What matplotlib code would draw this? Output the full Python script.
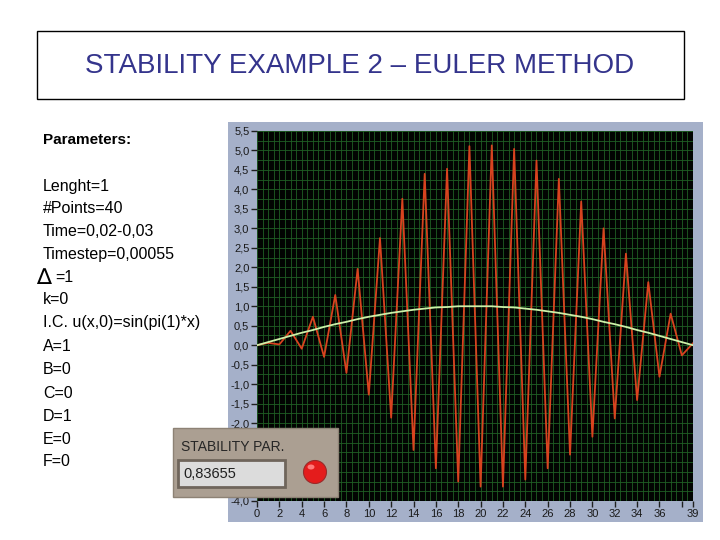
import matplotlib
matplotlib.use("Agg")
import matplotlib.pyplot as plt
from matplotlib.patches import Rectangle, Ellipse
from matplotlib.ticker import MultipleLocator, FuncFormatter, FixedLocator

plt.rcParams['font.family'] = ['Liberation Sans', 'DejaVu Sans']

# ---------------- data ----------------
title = "STABILITY EXAMPLE 2 \u2013 EULER METHOD"
param_header = "Parameters:"
param_lines = ["Lenght=1", "#Points=40", "Time=0,02-0,03", "Timestep=0,00055",
               "=1", "k=0", "I.C. u(x,0)=sin(pi(1)*x)", "A=1", "B=0", "C=0",
               "D=1", "E=0", "F=0"]
stability_label = "STABILITY PAR."
stability_value = "0,83655"

x_points = list(range(40))
euler_values = [0.00, 0.06, 0.02, 0.37, -0.09, 0.73, -0.30, 1.29, -0.71, 1.96,
                -1.27, 2.75, -1.86, 3.76, -2.69, 4.40, -3.16, 4.53, -3.50, 5.11,
                -3.63, 5.13, -3.63, 5.04, -3.45, 4.74, -3.16, 4.27, -2.81, 3.69,
                -2.35, 3.00, -1.88, 2.35, -1.41, 1.62, -0.81, 0.81, -0.26, 0.05]
initial_values = [0.00, 0.08, 0.16, 0.24, 0.32, 0.39, 0.47, 0.54, 0.60, 0.67,
                  0.73, 0.78, 0.83, 0.87, 0.91, 0.94, 0.97, 0.98, 1.00, 1.00,
                  1.00, 1.00, 0.98, 0.97, 0.94, 0.91, 0.87, 0.83, 0.78, 0.73,
                  0.67, 0.60, 0.54, 0.47, 0.39, 0.32, 0.24, 0.16, 0.08, 0.00]
x_tick_values = [0, 2, 4, 6, 8, 10, 12, 14, 16, 18, 20, 22, 24, 26, 28, 30, 32, 34, 36, 38, 39]
x_tick_labels = ["0", "2", "4", "6", "8", "10", "12", "14", "16", "18", "20", "22",
                 "24", "26", "28", "30", "32", "34", "36", "", "39"]
hidden_y_labels = [-2.5, -3.0, -3.5]   # covered by the widget in the reference

W, H = 720, 540
fig = plt.figure(figsize=(7.2, 5.4), dpi=100)
fig.patch.set_facecolor('white')

# background overlay axes in pixel coordinates
bg = fig.add_axes([0, 0, 1, 1], zorder=0)
bg.set_xlim(0, W); bg.set_ylim(H, 0); bg.axis('off')

# title box
bg.add_patch(Rectangle((37, 31), 647, 68, fill=False, edgecolor='black', lw=1.0))
bg.text(359.5, 66, title, ha='center', va='center', fontsize=20, color='#34348c')

# parameters text
bg.text(43, 140, param_header, ha='left', va='center', fontsize=11, fontweight='bold', color='black')
line_y = [186, 208.5, 231.5, 254.5, 277.5, 300, 323, 346.5, 370, 393, 416.5, 439, 461.5]
for yy, s in zip(line_y, param_lines):
    if s == "=1":
        bg.text(36, yy + 1, "\u2206", ha='left', va='center', fontsize=16,
                color='black', family=['DejaVu Sans'])
        bg.text(55, yy, s, ha='left', va='center', fontsize=11.5, color='black')
    else:
        bg.text(43, yy, s, ha='left', va='center', fontsize=11.5, color='black')

# graph panel background
bg.add_patch(Rectangle((228, 122), 475, 400, facecolor='#a5b0c9', edgecolor='none'))

# ---------------- plot ----------------
L, R, T, B = 257, 693, 131, 501
ax = fig.add_axes([L / W, 1 - B / H, (R - L) / W, (B - T) / H], zorder=1)
ax.set_facecolor('#020402')
ax.set_xlim(0, 39)
ax.set_ylim(-4.0, 5.5)

ax.xaxis.set_major_locator(FixedLocator(x_tick_values))
ax.set_xticklabels(x_tick_labels)
ax.xaxis.set_minor_locator(MultipleLocator(0.5))
ax.yaxis.set_major_locator(MultipleLocator(0.5))
ax.yaxis.set_minor_locator(MultipleLocator(0.25))


def yfmt(v, p):
    if any(abs(v - h) < 1e-6 for h in hidden_y_labels):
        return ""
    return ("%.1f" % v).replace('.', ',')


ax.yaxis.set_major_formatter(FuncFormatter(yfmt))

ax.grid(True, which='both', color='#1f5e24', lw=0.6)
ax.set_axisbelow(True)
ax.tick_params(which='minor', length=0)
ax.tick_params(which='major', length=4, width=1, color='#202020',
               labelsize=8, labelcolor='#1a1a1a', pad=1.5)
for sp in ax.spines.values():
    sp.set_visible(False)

ax.plot(x_points, euler_values, color='#d8431f', lw=1.3, zorder=3)
ax.plot(x_points, initial_values, color='#cdf0a8', lw=1.3, zorder=4)

# ---------------- stability widget overlay ----------------
top = fig.add_axes([0, 0, 1, 1], zorder=2)
top.set_xlim(0, W); top.set_ylim(H, 0); top.axis('off')
top.patch.set_alpha(0)
top.add_patch(Rectangle((173, 428), 165, 69, facecolor='#ab9f92', edgecolor='#8d8275', lw=1))
top.text(181, 447, stability_label, ha='left', va='center', fontsize=10, color='#262626')
top.add_patch(Rectangle((178, 460), 107, 27, facecolor='#dcdcdc', edgecolor='#6f655b', lw=2))
top.text(183, 474, stability_value, ha='left', va='center', fontsize=10.5, color='#202020')
top.add_patch(Ellipse((315, 472), 23, 23, facecolor='#e41c1c', edgecolor='#9a2a2a', lw=0.8))
top.add_patch(Ellipse((311, 467), 7, 5, facecolor='#ff7a7a', edgecolor='none'))

fig.savefig('out.png', dpi=100)
